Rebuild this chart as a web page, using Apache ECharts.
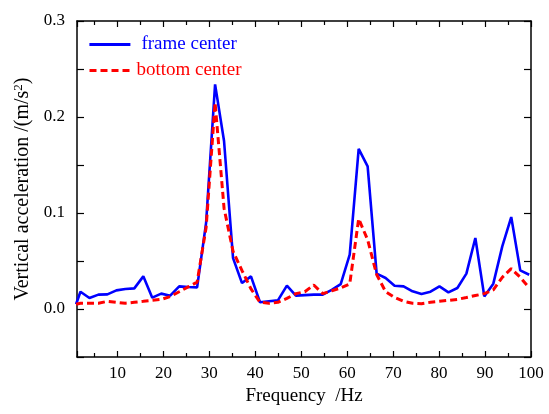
<!DOCTYPE html>
<html>
<head>
<meta charset="utf-8">
<script src="https://cdn.jsdelivr.net/npm/echarts@6/dist/echarts.min.js"></script>
<style>
    html, body { margin: 0; padding: 0; background: #fff; }
    #echarts { width: 549px; height: 414px; }
</style>
</head>
<body>
<div id="echarts"></div>
<script>
// frequency points (Hz)
var freq = [1.0, 1.95, 3.91, 5.86, 7.81, 9.77, 11.72, 13.67, 15.63, 17.58,
    19.53, 21.48, 23.44, 25.39, 27.34, 29.3, 31.25, 33.2, 35.16, 37.11,
    39.06, 41.02, 42.97, 44.92, 46.88, 48.83, 50.78, 52.73, 54.69, 56.64,
    58.59, 60.55, 62.5, 64.45, 66.41, 68.36, 70.31, 72.27, 74.22, 76.17,
    78.13, 80.08, 82.03, 83.98, 85.94, 87.89, 89.84, 91.8, 93.75, 95.7,
    97.66, 99.61];

// frame center
var frameCenter = [0.005, 0.018, 0.0115, 0.015, 0.0152, 0.0194, 0.0208, 0.0215, 0.034, 0.0118,
    0.016, 0.0139, 0.0236, 0.0229, 0.0225, 0.09, 0.234, 0.175, 0.053, 0.027,
    0.034, 0.007, 0.008, 0.009, 0.0243, 0.0139, 0.0145, 0.015, 0.015, 0.020,
    0.026, 0.0566, 0.1667, 0.1486, 0.0368, 0.0323, 0.0243, 0.0236, 0.0184, 0.0156,
    0.018, 0.0236, 0.0173, 0.0219, 0.0368, 0.074, 0.0131, 0.0264, 0.0652, 0.0958,
    0.0402, 0.0357];

// bottom center
var bottomCenter = [0.005, 0.006, 0.006, 0.006, 0.008, 0.007, 0.006, 0.007, 0.008, 0.009,
    0.010, 0.013, 0.018, 0.023, 0.028, 0.085, 0.215, 0.105, 0.060, 0.040,
    0.021, 0.007, 0.006, 0.007, 0.011, 0.016, 0.018, 0.025, 0.016, 0.019,
    0.022, 0.026, 0.094, 0.072, 0.036, 0.018, 0.012, 0.008, 0.006, 0.0055,
    0.007, 0.008, 0.009, 0.010, 0.012, 0.014, 0.016, 0.020, 0.033, 0.042,
    0.033, 0.022];

var seriesNames = ['frame center', 'bottom center'];

function pairs(xs, ys) {
    var out = [];
    for (var i = 0; i < xs.length; i++) {
        out.push([xs[i], ys[i]]);
    }
    return out;
}

var fontFam = "'Liberation Serif', 'Times New Roman', serif";

function xAxisCfg(pos) {
    return {
        type: 'value',
        position: pos,
        min: 1.2,
        max: 100,
        splitNumber: 10,
        name: pos == 'bottom' ? 'Frequency  /Hz' : '',
        nameLocation: 'middle',
        nameGap: 28,
        nameTextStyle: { fontFamily: fontFam, fontSize: 19, color: '#000' },
        axisLine: { onZero: false, lineStyle: { color: '#000', width: 1.5 } },
        axisTick: { inside: true, length: 6, lineStyle: { color: '#000', width: 1.2 } },
        minorTick: { show: true, splitNumber: 2, length: 4, lineStyle: { color: '#000', width: 1.2 } },
        splitLine: { show: false },
        axisLabel: {
            show: pos == 'bottom',
            margin: 8,
            fontFamily: fontFam,
            fontSize: 17,
            color: '#000',
            formatter: function (v) {
                return Math.abs(v % 10) < 1e-6 ? String(v) : '';
            }
        }
    };
}

function yAxisCfg(pos) {
    return {
        type: 'value',
        position: pos,
        min: -0.05,
        max: 0.3,
        interval: 0.05,
        name: pos == 'left' ? 'Vertical acceleration /(m/s{sup|2})' : '',
        nameLocation: 'middle',
        nameGap: 39,
        nameTextStyle: {
            fontFamily: fontFam, fontSize: 20, color: '#000',
            rich: { sup: { fontFamily: fontFam, fontSize: 13, verticalAlign: 'top', padding: [0, 0, 8, 0] } }
        },
        axisLine: { onZero: false, lineStyle: { color: '#000', width: 1.5 } },
        axisTick: { inside: true, length: 7, lineStyle: { color: '#000', width: 1.2 } },
        splitLine: { show: false },
        axisLabel: {
            show: pos == 'left',
            margin: 12,
            fontFamily: fontFam,
            fontSize: 17,
            color: '#000',
            formatter: function (v) {
                var t = Math.round(v * 100);
                if (t < 0 || t % 10 != 0) return '';
                return (t / 100).toFixed(1);
            }
        }
    };
}

var myChart = echarts.init(document.getElementById('echarts'));

var option = {
    backgroundColor: '#fff',
    animation: false,
    grid: { left: 77, right: 18, top: 21, bottom: 57 },
    legend: [
        {
            data: [seriesNames[0]],
            left: 83,
            top: 30,
            itemWidth: 41,
            itemHeight: 14,
            itemStyle: { opacity: 0 },
            lineStyle: { width: 2.8, color: '#0000ff' },
            textStyle: { fontFamily: fontFam, fontSize: 19, color: '#0000ff', padding: [0, 0, 0, 6] }
        },
        {
            data: [seriesNames[1]],
            left: 83,
            top: 56,
            itemWidth: 40,
            itemHeight: 14,
            itemStyle: { opacity: 0 },
            lineStyle: { width: 3, color: '#ff0000', type: [7, 4] },
            textStyle: { fontFamily: fontFam, fontSize: 19, color: '#ff0000', padding: [0, 0, 0, 2] }
        }
    ],
    xAxis: [xAxisCfg('bottom'), xAxisCfg('top')],
    yAxis: [yAxisCfg('left'), yAxisCfg('right')],
    series: [
        {
            name: seriesNames[0],
            type: 'line',
            symbol: 'none',
            clip: true,
            lineStyle: { color: '#0000ff', width: 2.6 },
            itemStyle: { color: '#0000ff' },
            data: pairs(freq, frameCenter)
        },
        {
            name: seriesNames[1],
            type: 'line',
            symbol: 'none',
            clip: true,
            lineStyle: { color: '#ff0000', width: 3, type: [7, 4] },
            itemStyle: { color: '#ff0000' },
            data: pairs(freq, bottomCenter)
        }
    ]
};
myChart.setOption(option);
</script>
</body>
</html>
